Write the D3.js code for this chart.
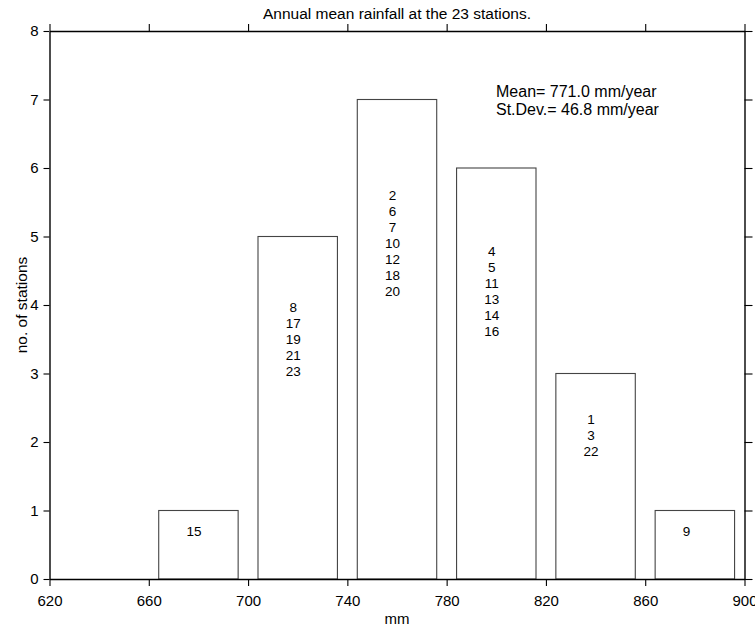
<!DOCTYPE html>
<html>
<head>
<meta charset="utf-8">
<script src="https://cdn.jsdelivr.net/npm/d3@7"></script>
<style>
  html, body { margin: 0; padding: 0; background: #fff; }
  svg { display: block; font-family: "Liberation Sans", Arial, Helvetica, sans-serif; }
</style>
</head>
<body>
<svg id="chart" width="755" height="628"></svg>
<script>
// Histogram of annual mean rainfall (mm/year) over 23 stations
const binLow = [664, 704, 744, 784, 824, 864];
const binHigh = [696, 736, 776, 816, 856, 896];
const counts = [1, 5, 7, 6, 3, 1];
const stations = [
  ["15"],
  ["8", "17", "19", "21", "23"],
  ["2", "6", "7", "10", "12", "18", "20"],
  ["4", "5", "11", "13", "14", "16"],
  ["1", "3", "22"],
  ["9"]
];
const xTicks = [620, 660, 700, 740, 780, 820, 860, 900];
const yTicks = [0, 1, 2, 3, 4, 5, 6, 7, 8];
const statsLines = ["Mean= 771.0 mm/year", "St.Dev.= 46.8 mm/year"];
const titleText = "Annual mean rainfall at the 23 stations.";

const svg = d3.select("#chart");
const plotLeft = 49.5, plotRight = 744.5, plotTop = 31, plotBottom = 579;

const x = d3.scaleLinear().domain([620, 900]).range([plotLeft, plotRight]);
const y = d3.scaleLinear().domain([0, 8]).range([plotBottom, plotTop]);

// bars
const bars = svg.append("g");
counts.forEach((c, i) => {
  bars.append("rect")
    .attr("x", x(binLow[i]))
    .attr("y", y(c))
    .attr("width", x(binHigh[i]) - x(binLow[i]))
    .attr("height", y(0) - y(c))
    .attr("fill", "none")
    .attr("stroke", "#444")
    .attr("stroke-width", 1.1);
});

// station numbers: a text block per bar, starting a fixed inset from the bar's
// left edge, lines centred within the block, block centred at 0.7 of the bar height
const lineGap = 16, blockInset = 27.7;
counts.forEach((c, i) => {
  const list = stations[i];
  const cy = y(c * 0.7);
  const texts = list.map((s, j) => svg.append("text")
    .attr("y", cy + (j - (list.length - 1) / 2) * lineGap)
    .attr("dy", "0.36em")
    .attr("text-anchor", "middle")
    .attr("font-size", 13.5)
    .attr("fill", "#000")
    .text(s));
  const maxW = d3.max(texts, t => t.node().getComputedTextLength());
  const cx = x(binLow[i]) + blockInset + maxW / 2;
  texts.forEach(t => t.attr("x", cx));
});

// axes / frame
function styleAxis(g) {
  g.selectAll("path.domain").attr("stroke", "#000").attr("stroke-width", 1.4);
  g.selectAll(".tick line").attr("stroke", "#000").attr("stroke-width", 1.1);
  g.selectAll("text").attr("font-size", 15).attr("fill", "#000")
    .attr("font-family", "Liberation Sans, Arial, Helvetica, sans-serif");
}

svg.append("g")
  .attr("transform", `translate(0,${plotBottom})`)
  .call(d3.axisBottom(x).tickValues(xTicks).tickFormat(d3.format("d")).tickSize(7).tickSizeOuter(0).tickPadding(9))
  .call(styleAxis);

svg.append("g")
  .attr("transform", `translate(0,${plotTop})`)
  .call(d3.axisTop(x).tickValues(xTicks).tickFormat("").tickSize(7).tickSizeOuter(0))
  .call(styleAxis);

svg.append("g")
  .attr("transform", `translate(${plotLeft},0)`)
  .call(d3.axisLeft(y).tickValues(yTicks).tickFormat(d3.format("d")).tickSize(6).tickSizeOuter(0).tickPadding(5))
  .call(styleAxis);

svg.append("g")
  .attr("transform", `translate(${plotRight},0)`)
  .call(d3.axisRight(y).tickValues(yTicks).tickFormat("").tickSize(8).tickSizeOuter(0))
  .call(styleAxis);

// title and axis labels
svg.append("text")
  .attr("x", (plotLeft + plotRight) / 2)
  .attr("y", 19)
  .attr("text-anchor", "middle")
  .attr("font-size", 15.5)
  .text(titleText);

svg.append("text")
  .attr("x", (plotLeft + plotRight) / 2)
  .attr("y", 624)
  .attr("text-anchor", "middle")
  .attr("font-size", 15)
  .text("mm");

svg.append("text")
  .attr("transform", `translate(26.5,${(plotTop + plotBottom) / 2}) rotate(-90)`)
  .attr("text-anchor", "middle")
  .attr("font-size", 15.5)
  .text("no. of stations");

// summary statistics
statsLines.forEach((t, i) => {
  svg.append("text")
    .attr("x", 496)
    .attr("y", 96.5 + i * 18)
    .attr("font-size", 16)
    .text(t);
});
</script>
</body>
</html>
